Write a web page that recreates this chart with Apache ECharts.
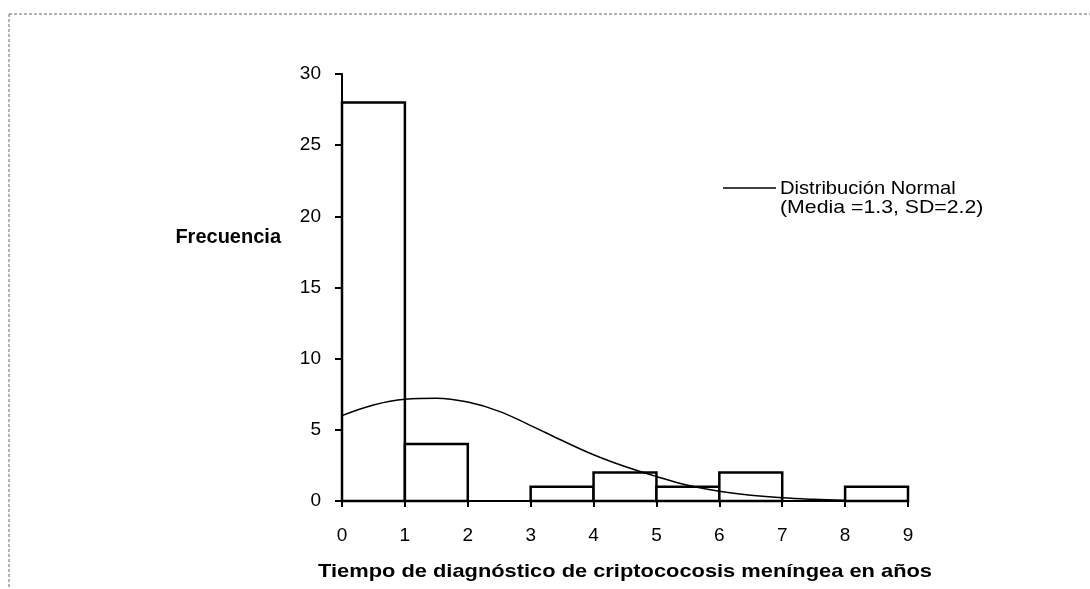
<!DOCTYPE html>
<html>
<head>
<meta charset="utf-8">
<script src="https://cdn.jsdelivr.net/npm/echarts@6/dist/echarts.min.js"></script>
<style>html,body{margin:0;padding:0;background:#fff}#c{width:1090px;height:589px}</style>
</head>
<body>
<div id="c"></div>
<script>
// Histogram bins (years) and frequencies
const binStart = [0, 1, 2, 3, 4, 5, 6, 7, 8];
const binEnd   = [1, 2, 3, 4, 5, 6, 7, 8, 9];
const freq     = [28, 4, 0, 1, 2, 1, 2, 0, 1];
// Normal curve
const curveX = [0, 0.5, 1, 1.5, 2, 2.5, 3, 3.5, 4, 4.5, 5, 5.5, 6, 6.5, 7, 7.5, 8];
const curveY = [6.0, 6.75, 7.15, 7.22, 6.95, 6.3, 5.3, 4.25, 3.25, 2.42, 1.72, 1.1, 0.68, 0.4, 0.22, 0.12, 0.06];
const xTicks = [0, 1, 2, 3, 4, 5, 6, 7, 8, 9];
const yTicks = [0, 5, 10, 15, 20, 25, 30];
const legendLine1 = 'Distribución Normal';
const legendLine2 = '(Media =1.3, SD=2.2)';
const yName = 'Frecuencia';
const xName = 'Tiempo de diagnóstico de criptococosis meníngea en años';

const FONT = '"Liberation Sans", Arial, sans-serif';
const histData = binStart.map((s, i) => [s, binEnd[i], freq[i]]);
const curveData = curveX.map((x, i) => [x, curveY[i]]);

const chart = echarts.init(document.getElementById('c'), null, {renderer: 'canvas'});
chart.setOption({
  animation: false,
  backgroundColor: '#fff',
  grid: {left: 342, right: 182, top: 74, bottom: 88, containLabel: false},
  xAxis: {
    type: 'value', min: xTicks[0], max: xTicks[xTicks.length - 1], interval: 1,
    axisLine: {show: true, lineStyle: {color: '#000', width: 2}},
    axisTick: {show: true, length: 6, lineStyle: {color: '#000', width: 2}},
    axisLabel: {color: '#000', fontFamily: FONT, fontSize: 19, margin: 25},
    splitLine: {show: false}
  },
  yAxis: {
    type: 'value', min: yTicks[0], max: yTicks[yTicks.length - 1], interval: 5,
    axisLine: {show: true, lineStyle: {color: '#000', width: 2}},
    axisTick: {show: true, length: 7, lineStyle: {color: '#000', width: 2}},
    axisLabel: {color: '#000', fontFamily: FONT, fontSize: 19, margin: 21},
    splitLine: {show: false}
  },
  series: [
    {
      type: 'custom',
      data: histData,
      encode: {x: [0, 1], y: 2},
      renderItem: function (params, api) {
        const v = api.value(2);
        if (!v) return null;
        const p0 = api.coord([api.value(0), v]);
        const p1 = api.coord([api.value(1), 0]);
        return {
          type: 'rect',
          shape: {x: p0[0], y: p0[1], width: p1[0] - p0[0], height: p1[1] - p0[1]},
          style: {fill: '#fff', stroke: '#000', lineWidth: 2.5}
        };
      },
      z: 2
    },
    {
      type: 'line',
      data: curveData,
      smooth: 0.4,
      showSymbol: false,
      lineStyle: {color: '#000', width: 1.5},
      z: 3
    }
  ],
  graphic: [
    {type: 'line', shape: {x1: 9, y1: 14, x2: 1090, y2: 14}, style: {stroke: '#666', lineWidth: 1, lineDash: [3, 2]}},
    {type: 'line', shape: {x1: 9, y1: 14, x2: 9, y2: 589}, style: {stroke: '#666', lineWidth: 1, lineDash: [3, 2]}},
    {type: 'line', shape: {x1: 723, y1: 188, x2: 776, y2: 188}, style: {stroke: '#000', lineWidth: 1.5}},
    {type: 'text', x: 780, y: 189, scaleX: 1.06, style: {text: legendLine1, font: '19px ' + FONT, fill: '#000', verticalAlign: 'middle'}},
    {type: 'text', x: 780, y: 208, scaleX: 1.12, style: {text: legendLine2, font: '19px ' + FONT, fill: '#000', verticalAlign: 'middle'}},
    {type: 'text', x: 281, y: 237, style: {text: yName, font: 'bold 20px ' + FONT, fill: '#000', align: 'right', verticalAlign: 'middle'}},
    {type: 'text', x: 625, y: 572, scaleX: 1.15, style: {text: xName, font: 'bold 19px ' + FONT, fill: '#000', align: 'center', verticalAlign: 'middle'}}
  ]
});
</script>
</body>
</html>
